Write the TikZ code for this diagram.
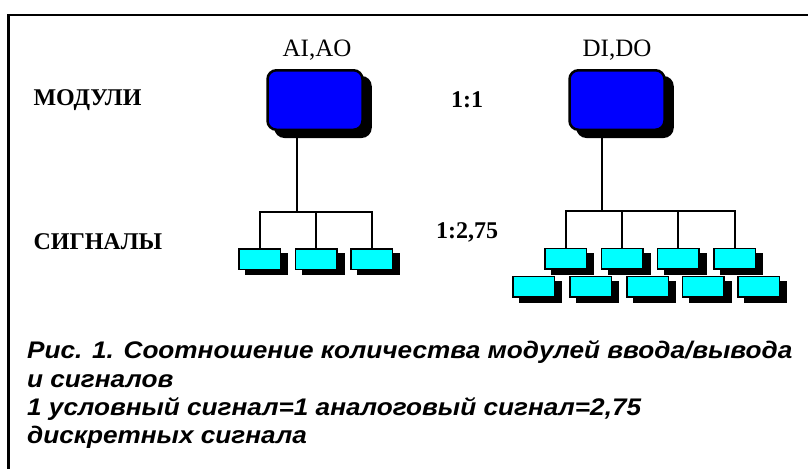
\documentclass[tikz,border=0pt]{standalone}
\usepackage{fontspec}
\setmainfont{Liberation Serif}
\newfontfamily\capfont[FakeStretch=1.09]{Liberation Sans}
\usetikzlibrary{shadows}
\definecolor{modblue}{RGB}{0,0,255}
\definecolor{sigcyan}{RGB}{0,255,255}

\begin{document}
\begin{tikzpicture}[x=1pt,y=-1pt,
   modbox/.style={draw=black, line width=2.5pt, fill=modblue, rounded corners=9pt,
      minimum width=95pt, minimum height=59.5pt, inner sep=0pt,
      copy shadow={shadow xshift=8pt, shadow yshift=-7pt, fill=black, draw=black}},
   sigbox/.style={draw=black, line width=1.5pt, fill=sigcyan,
      minimum width=41.5pt, minimum height=20.5pt, inner sep=0pt,
      copy shadow={shadow xshift=7pt, shadow yshift=-5pt, fill=black, draw=black}},
   wire/.style={line width=2.5pt},
   branch/.style={line width=2pt, line join=miter},
   rowname/.style={anchor=west, font=\bfseries\fontsize{24}{24}\selectfont},
   ratio/.style={font=\bfseries\fontsize{24}{24}\selectfont},
   modname/.style={font=\fontsize{25}{25}\selectfont},
   capline/.style={anchor=base west, inner sep=0pt, font=\capfont\bfseries\itshape\fontsize{24}{24}\selectfont}]
   \useasboundingbox (0,0) rectangle (808,469);

   % frame, only top and left sides
   \draw[line width=2.5pt] (808,15) -- (8.5,15) -- (8.5,469);

   \node[rowname] (modrow) at (30,100) {МОДУЛИ};
   \node[rowname] (sigrow) at (30,242) {СИГНАЛЫ};
   \node[ratio] (r1) at (467,100) {1:1};
   \node[ratio] (r2) at (467,232) {1:2,75};

   % analog modules
   \node[modname] (ainame) at (317,50) {AI,AO};
   \node[modbox] (ai) at (315,100) {};
   \node[sigbox] (a1) at (259.5,259) {};
   \node[sigbox] (a2) at (316,259) {};
   \node[sigbox] (a3) at (371.5,259) {};
   \coordinate (aj) at (297,212);
   \draw[wire] (ai.south -| aj) -- (aj);
   \draw[branch] (a1.north) -- (a1.north |- aj) -- (a3.north |- aj) -- (a3.north);
   \draw[branch] (a2.north |- aj) -- (a2.north);

   % discrete modules
   \node[modname] (diname) at (617,50) {DI,DO};
   \node[modbox] (di) at (617,100) {};
   \node[sigbox] (d1) at (565.5,258.5) {};
   \node[sigbox] (d2) at (622,258.5) {};
   \node[sigbox] (d3) at (678,258.5) {};
   \node[sigbox] (d4) at (734.5,258.5) {};
   \node[sigbox] (d5) at (533.5,286.5) {};
   \node[sigbox] (d6) at (590.5,286.5) {};
   \node[sigbox] (d7) at (647.5,286.5) {};
   \node[sigbox] (d8) at (703,286.5) {};
   \node[sigbox] (d9) at (758.5,286.5) {};
   \coordinate (dj) at (602,211);
   \draw[wire] (di.south -| dj) -- (dj);
   \draw[branch] (d1.north) -- (d1.north |- dj) -- (d4.north |- dj) -- (d4.north);
   \foreach \s in {d2,d3}
      \draw[branch] (\s.north |- dj) -- (\s.north);

   % caption
   \node[capline] (cap1) at (27,358) {Рис. 1. Соотношение количества модулей ввода/вывода};
   \node[capline] (cap2) at (27,387) {и сигналов};
   \node[capline] (cap3) at (27,415) {1 условный сигнал=1 аналоговый сигнал=2,75};
   \node[capline] (cap4) at (27,443) {дискретных сигнала};
\end{tikzpicture}
\end{document}
